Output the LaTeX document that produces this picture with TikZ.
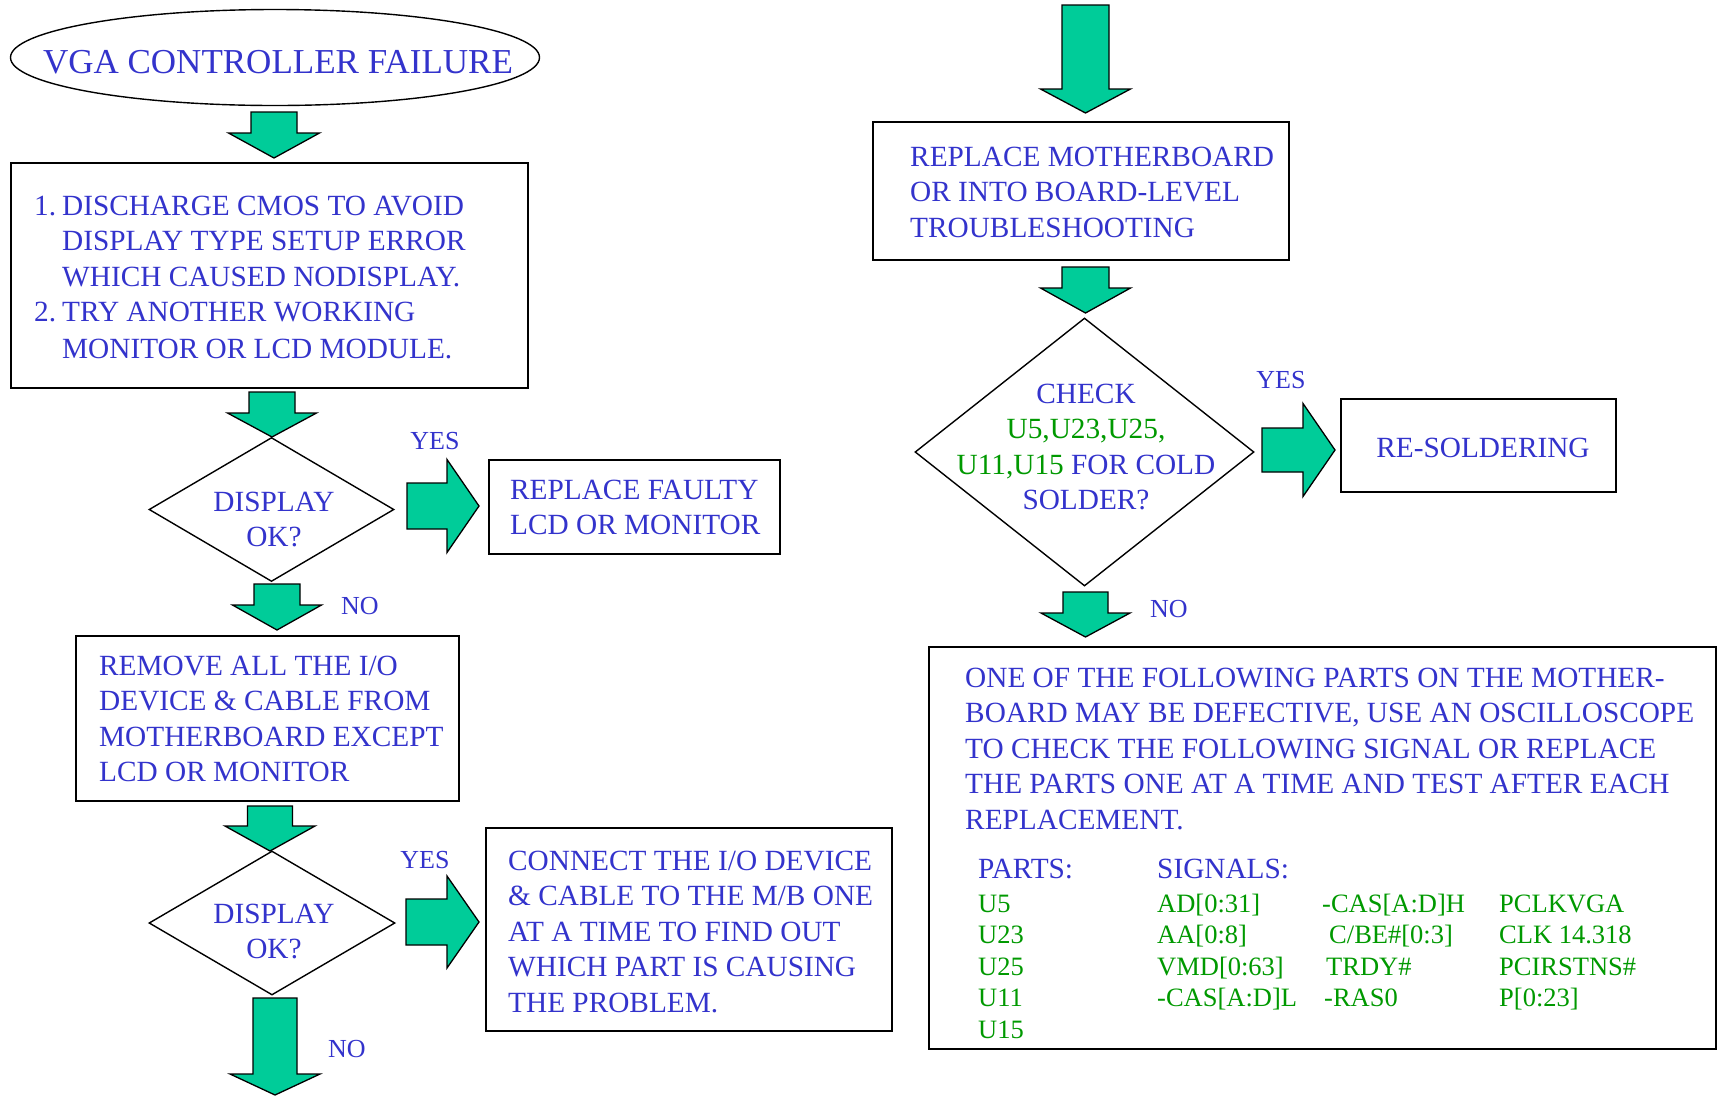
\documentclass[tikz,border=0pt]{standalone}
\usepackage{fontspec}
\setmainfont{Liberation Serif}
\usetikzlibrary{shapes.geometric}
\definecolor{tblue}{RGB}{51,51,204}
\definecolor{tgreen}{RGB}{0,153,0}
\definecolor{afill}{RGB}{0,204,153}
\newcommand\fs[2]{\fontsize{#1}{#2}\selectfont}
\newcommand\ttab[2]{\begin{tabular}[t]{@{}#1@{}}#2\end{tabular}}
\newcommand\blkdown[6]{% cx, top, base, tip, shaft half, head half
  \path[blk] ({#1-#5},#2) -- ({#1+#5},#2) -- ({#1+#5},#3) -- ({#1+#6},#3) -- (#1,#4)
    -- ({#1-#6},#3) -- ({#1-#5},#3) -- cycle;}
\newcommand\blkright[6]{% cy, left, base, tip, shaft half, head half
  \path[blk] (#2,{#1-#5}) -- (#3,{#1-#5}) -- (#3,{#1-#6}) -- (#4,#1) -- (#3,{#1+#6})
    -- (#3,{#1+#5}) -- (#2,{#1+#5}) -- cycle;}
\tikzset{
  box/.style={draw, line width=1.8pt, inner sep=0pt, anchor=north west},
  dia/.style={draw, diamond, line width=1.4pt, inner sep=0pt},
  ell/.style={draw, ellipse, line width=1.4pt, inner sep=0pt},
  txt/.style={text=tblue, inner sep=0pt, font=\fs{29.3}{35.5}},
  tbl/.style={text=tgreen, inner sep=0pt, font=\fs{26.5}{31.5}, anchor=base west},
  lbl/.style={text=tblue, inner sep=0pt, font=\fs{26}{30}},
  blk/.style={fill=afill, draw=black, line width=1.3pt, line join=miter},
}
\begin{document}
\begin{tikzpicture}[x=1pt, y=-1pt]
\useasboundingbox[fill=white] (0,0) rectangle (1717,1096);

% ---------- left column ----------
\node[ell, minimum width=529pt, minimum height=96pt] (start) at (275,57.5) {};
\node[txt, font=\fs{35}{40}, anchor=base] (startT) at (278,73) {VGA CONTROLLER FAILURE};

\blkdown{274}{112}{133}{158}{23}{45.5}

\node[box, minimum width=517pt, minimum height=225pt] (b1) at (10,162) {};
\node[txt, anchor=base west] (b1T) at (34,215)
  {\ttab{p{28pt}@{}l}{1.&DISCHARGE CMOS TO AVOID\\ &DISPLAY TYPE SETUP ERROR\\ &WHICH CAUSED NODISPLAY.\\ 2.&TRY ANOTHER WORKING\\[1pt] &MONITOR OR LCD MODULE.}};

\blkdown{272}{392}{413}{437}{23}{44.5}

\node[dia, minimum width=245pt, minimum height=144pt] (d1) at (271.5,509.5) {};
\node[txt, anchor=base] (d1T) at (274,511) {\ttab{c}{DISPLAY\\ OK?}};

\node[lbl, anchor=base] (yes1) at (435,449) {YES};
\blkright{506}{407}{447}{479}{23}{46.5}

\node[box, minimum width=291pt, minimum height=94pt] (b2) at (488,459) {};
\node[txt, anchor=base west] (b2T) at (510,499) {\ttab{l}{REPLACE FAULTY\\ LCD OR MONITOR}};

\blkdown{277}{584}{605}{630}{23}{44.5}
\node[lbl, anchor=base west] (no1) at (341,614) {NO};

\node[box, minimum width=383pt, minimum height=165pt] (b3) at (75,635) {};
\node[txt, anchor=base west] (b3T) at (99,675)
  {\ttab{l}{REMOVE ALL THE I/O\\ DEVICE \& CABLE FROM\\ MOTHERBOARD EXCEPT\\ LCD OR MONITOR}};

\blkdown{270}{806}{826}{851}{22.5}{45}

\node[dia, minimum width=246pt, minimum height=144pt] (d2) at (272,923) {};
\node[txt, anchor=base] (d2T) at (274,923) {\ttab{c}{DISPLAY\\ OK?}};

\node[lbl, anchor=base] (yes2) at (425,868) {YES};
\blkright{922}{406}{447}{479}{23}{46}

\node[box, minimum width=406pt, minimum height=203pt] (b4) at (485,827) {};
\node[txt, anchor=base west] (b4T) at (508,870)
  {\ttab{l}{CONNECT THE I/O DEVICE\\ \& CABLE TO THE M/B ONE\\ AT A TIME TO FIND OUT\\ WHICH PART IS CAUSING\\ THE PROBLEM.}};

\blkdown{275}{998}{1074}{1095}{22}{45}
\node[lbl, anchor=base west] (no2) at (328,1057) {NO};

% ---------- right column ----------
\blkdown{1085.5}{5}{89}{113}{23.5}{45}

\node[box, minimum width=416pt, minimum height=138pt] (b5) at (872,121) {};
\node[txt, anchor=base west] (b5T) at (910,166)
  {\ttab{l}{REPLACE MOTHERBOARD\\ OR INTO BOARD-LEVEL\\ TROUBLESHOOTING}};

\blkdown{1085.5}{267}{288}{313}{23.5}{45}

\node[dia, minimum width=339pt, minimum height=268pt] (d3) at (1084.5,452) {};
\node[txt, anchor=base] (d3T) at (1086,403)
  {\ttab{c}{CHECK\\ \textcolor{tgreen}{U5,U23,U25,}\\ \textcolor{tgreen}{U11,U15} FOR COLD\\ SOLDER?}};

\node[lbl, anchor=base] (yes3) at (1281,388) {YES};
\blkright{450}{1262}{1303}{1335}{22}{46.5}

\node[box, minimum width=275pt, minimum height=93pt] (b6) at (1340,398) {};
\node[txt, anchor=base] (b6T) at (1483,457) {RE-SOLDERING};

\blkdown{1085.5}{592}{613}{637}{22.5}{44.5}
\node[lbl, anchor=base west] (no3) at (1150,617) {NO};

\node[box, minimum width=787pt, minimum height=402pt] (b7) at (928,646) {};
\node[txt, anchor=base west] (b7T) at (965,687)
  {\ttab{l}{ONE OF THE FOLLOWING PARTS ON THE MOTHER-\\ BOARD MAY BE DEFECTIVE, USE AN OSCILLOSCOPE\\ TO CHECK THE FOLLOWING SIGNAL OR REPLACE\\ THE PARTS ONE AT A TIME AND TEST AFTER EACH\\ REPLACEMENT.}};
\node[txt, anchor=base west] (partsH) at (978,878) {PARTS:};
\node[txt, anchor=base west] (sigH) at (1157,878) {SIGNALS:};
\node[tbl] (col1) at (978,912) {\ttab{l}{U5\\ U23\\ U25\\ U11\\ U15}};
\node[tbl] (col2) at (1157,912) {\ttab{l}{AD[0:31]\\ AA[0:8]\\ VMD[0:63]\\ -CAS[A:D]L}};
\node[tbl] (col3) at (1322,912) {\ttab{l}{-CAS[A:D]H\\ \hspace{7pt}C/BE\#[0:3]\\ \hspace{4pt}TRDY\#\\ \hspace{2pt}-RAS0}};
\node[tbl] (col4) at (1499,912) {\ttab{l}{PCLKVGA\\ CLK 14.318\\ PCIRSTNS\#\\ P[0:23]}};
\end{tikzpicture}
\end{document}
